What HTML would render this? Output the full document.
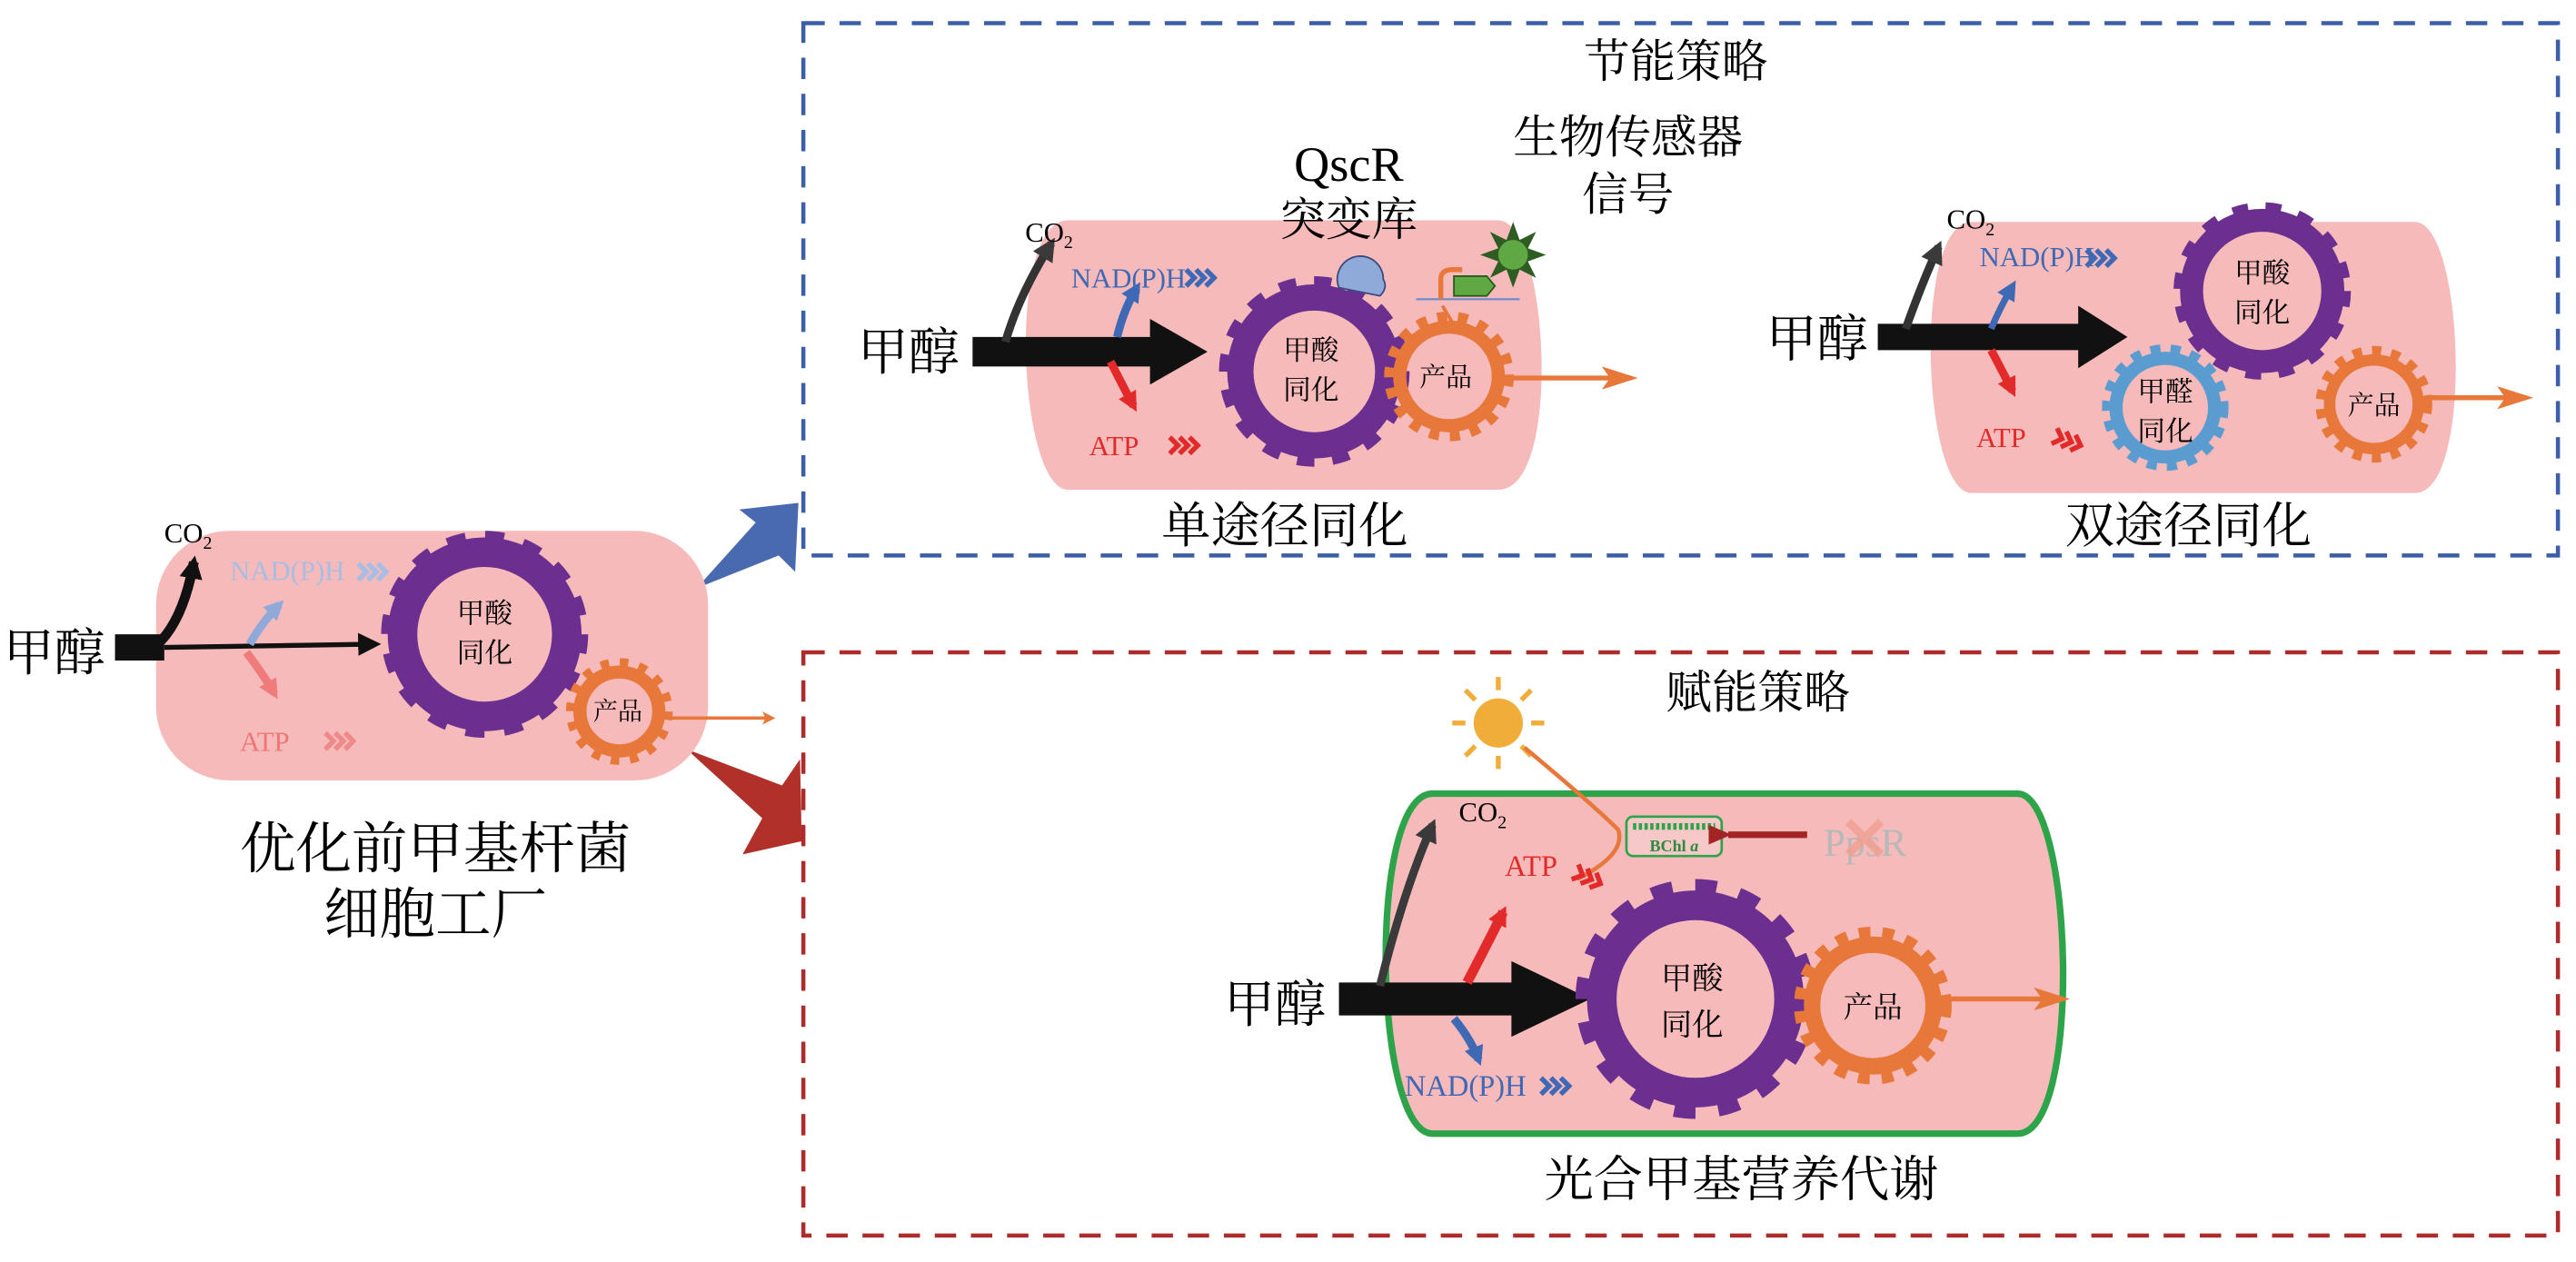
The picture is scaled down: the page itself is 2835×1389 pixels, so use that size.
<!DOCTYPE html>
<html><head><meta charset="utf-8"><style>
html,body{margin:0;padding:0;background:#fff;}
svg{display:block;}
text{font-family:"Liberation Serif","Noto Serif CJK SC","Noto Sans CJK SC",serif;}
</style></head><body>
<svg width="2835" height="1389" viewBox="0 0 1568 768" xmlns="http://www.w3.org/2000/svg">
<defs>
<marker id="mo" markerWidth="8" markerHeight="8" refX="6" refY="4" orient="auto" markerUnits="userSpaceOnUse"><path d="M0,0 L8,4 L0,8 L2,4z" fill="#e8773a"/></marker>
<marker id="mo2" markerWidth="22" markerHeight="14" refX="18" refY="7" orient="auto" markerUnits="userSpaceOnUse"><path d="M0,0 L22,7 L0,14 L5,7z" fill="#e8773a"/></marker>
<marker id="mk" markerWidth="14" markerHeight="14" refX="10" refY="7" orient="auto" markerUnits="userSpaceOnUse"><path d="M0,0 L14,7 L0,14z" fill="#111"/></marker>
<marker id="mg" markerWidth="14" markerHeight="14" refX="10" refY="7" orient="auto" markerUnits="userSpaceOnUse"><path d="M0,0 L14,7 L0,14z" fill="#3a3a3a"/></marker>
<marker id="mb" markerWidth="12" markerHeight="12" refX="8" refY="6" orient="auto" markerUnits="userSpaceOnUse"><path d="M0,0 L12,6 L0,12z" fill="#3f68b5"/></marker>
<marker id="mbl" markerWidth="12" markerHeight="12" refX="8" refY="6" orient="auto" markerUnits="userSpaceOnUse"><path d="M0,0 L12,6 L0,12z" fill="#8fa9d9"/></marker>
<marker id="mr" markerWidth="12" markerHeight="12" refX="8" refY="6" orient="auto" markerUnits="userSpaceOnUse"><path d="M0,0 L12,6 L0,12z" fill="#e32a2a"/></marker>
<marker id="mrl" markerWidth="12" markerHeight="12" refX="8" refY="6" orient="auto" markerUnits="userSpaceOnUse"><path d="M0,0 L12,6 L0,12z" fill="#ef7b7b"/></marker>
<marker id="mdr" markerWidth="14" markerHeight="12" refX="2" refY="6" orient="auto" markerUnits="userSpaceOnUse"><path d="M0,6 L14,0 L14,12z" fill="#a32424"/></marker>
<path id="chev" d="M0,-5 L5,0 L0,5 M6,-5 L11,0 L6,5 M12,-5 L17,0 L12,5" fill="none" stroke-width="3"/>
</defs>

<rect x="489" y="14" width="1068" height="324" fill="none" stroke="#3c5ea8" stroke-width="2.5" stroke-dasharray="13 9"/>
<rect x="489" y="397" width="1068" height="355" fill="none" stroke="#ad2b2b" stroke-width="2.5" stroke-dasharray="13 9"/>

<path d="M424,358 L460,318 L450,310 L486,306 L484,348 L474,338 Z" fill="#4a6ab0"/>
<path d="M418,456 L476,478 L487,462 L488,512 L452,520 L464,498 Z" fill="#b2302a"/>

<!-- ===== LEFT CELL ===== -->
<rect x="95" y="323" width="336" height="152" rx="45" fill="#f6baba"/>
<text x="2" y="408" font-size="31">甲醇</text>
<path d="M70,386 L100,386 L100,402 L70,402Z" fill="#111"/>
<path d="M100,394 L228,392" stroke="#111" stroke-width="3" marker-end="url(#mk)"/>
<path d="M98,390 Q112,375 118,342" stroke="#111" stroke-width="6" fill="none" marker-end="url(#mk)"/>
<text x="100" y="330" font-size="17">CO<tspan font-size="11" dy="4">2</tspan></text>
<text x="140" y="353" font-size="17" fill="#a8bde3">NAD(P)H</text>
<use href="#chev" x="218" y="348" stroke="#a8bde3"/>
<path d="M152,392 Q160,378 170,368" stroke="#8fa9d9" stroke-width="5" fill="none" marker-end="url(#mbl)"/>
<path d="M150,397 Q160,410 167,422" stroke="#ef7b7b" stroke-width="5" fill="none" marker-end="url(#mrl)"/>
<text x="146" y="457" font-size="17" fill="#ee7676">ATP</text>
<use href="#chev" x="198" y="451" stroke="#ee8a8a"/>
<g transform="translate(295,386)">
<circle r="50" fill="none" stroke="#6b2f8f" stroke-width="18"/>
<circle r="57" fill="none" stroke="#6b2f8f" stroke-width="12" stroke-dasharray="11 11.4"/>
</g>
<text x="295" y="379" font-size="17" text-anchor="middle">甲酸</text>
<text x="295" y="403" font-size="17" text-anchor="middle">同化</text>
<g transform="translate(377,433)">
<circle r="24" fill="none" stroke="#e8773a" stroke-width="8"/>
<circle r="29" fill="none" stroke="#e8773a" stroke-width="7" stroke-dasharray="5 6.4"/>
</g>
<text x="376" y="438" font-size="15" text-anchor="middle">产品</text>
<path d="M403,437 L470,437" stroke="#e8773a" stroke-width="2" marker-end="url(#mo)"/>
<text x="265" y="528" font-size="34" text-anchor="middle">优化前甲基杆菌</text>
<text x="265" y="568" font-size="34" text-anchor="middle">细胞工厂</text>

<!-- ===== TOP CELL 1 ===== -->
<path d="M650,134 L912,134 C942,134 952,298 912,298 L650,298 C620,298 612,134 650,134Z" fill="#f6baba"/>
<text x="1020" y="47" font-size="28" text-anchor="middle">节能策略</text>
<text x="522" y="225" font-size="31">甲醇</text>
<path d="M592,205 L700,205 L700,194 L735,214 L700,234 L700,223 L592,223Z" fill="#111"/>
<path d="M612,208 Q620,180 640,148" stroke="#333" stroke-width="5" fill="none" marker-end="url(#mg)"/>
<text x="624" y="147" font-size="17">CO<tspan font-size="11" dy="4">2</tspan></text>
<text x="652" y="175" font-size="17" fill="#3f68b5">NAD(P)H</text>
<use href="#chev" x="722" y="169" stroke="#3f68b5"/>
<path d="M680,205 Q684,188 692,175" stroke="#3f68b5" stroke-width="5" fill="none" marker-end="url(#mb)"/>
<path d="M676,220 Q684,236 690,247" stroke="#e32a2a" stroke-width="5" fill="none" marker-end="url(#mr)"/>
<text x="663" y="277" font-size="17" fill="#e32a2a">ATP</text>
<use href="#chev" x="712" y="271" stroke="#e32a2a"/>
<g transform="translate(800,226)">
<circle r="45" fill="none" stroke="#6b2f8f" stroke-width="16"/>
<circle r="52" fill="none" stroke="#6b2f8f" stroke-width="12" stroke-dasharray="10 10.4"/>
</g>
<text x="798" y="219" font-size="17" text-anchor="middle">甲酸</text>
<text x="798" y="243" font-size="17" text-anchor="middle">同化</text>
<g transform="translate(882,229)">
<circle r="30" fill="none" stroke="#e8773a" stroke-width="8"/>
<circle r="36" fill="none" stroke="#e8773a" stroke-width="7" stroke-dasharray="6 6.5"/>
</g>
<text x="880" y="235" font-size="16" text-anchor="middle">产品</text>
<path d="M917,230 L993,230" stroke="#e8773a" stroke-width="3" marker-end="url(#mo2)"/>
<path d="M884,196 L878,186" stroke="#e8773a" stroke-width="2"/>
<text x="821" y="110" font-size="30" text-anchor="middle">QscR</text>
<text x="821" y="143" font-size="28" text-anchor="middle">突变库</text>
<text x="991" y="93" font-size="28" text-anchor="middle">生物传感器</text>
<text x="991" y="128" font-size="28" text-anchor="middle">信号</text>
<path d="M815,175 A14,14 0 1 1 842,170 Q845,175 840,180 Z" fill="#8fa9d9" stroke="#3a4a80" stroke-width="1"/>
<line x1="862" y1="182" x2="925" y2="182" stroke="#6a8ad0" stroke-width="1.2"/>
<path d="M877,182 L877,170 Q877,164 884,164 L890,164" stroke="#e8773a" stroke-width="3" fill="none"/>
<path d="M885,180 L905,180 L910,174 L905,168 L885,168Z" fill="#5fa844" stroke="#2b5a20"/>
<g transform="translate(921,155)">
<polygon points="0,-20 4,-9 14,-14 9,-4 20,0 9,4 14,14 4,9 0,20 -4,9 -14,14 -9,4 -20,0 -9,-4 -14,-14 -4,-9" fill="#2e5c22"/>
<circle r="9" fill="#5fa844"/>
</g>
<text x="782" y="330" font-size="30" text-anchor="middle">单途径同化</text>

<!-- ===== TOP CELL 2 ===== -->
<path d="M1200,135 L1470,135 C1500,135 1506,300 1470,300 L1200,300 C1170,300 1164,135 1200,135Z" fill="#f6baba"/>
<text x="1075" y="217" font-size="31">甲醇</text>
<path d="M1143,197 L1265,197 L1265,186 L1295,205 L1265,224 L1265,213 L1143,213Z" fill="#111"/>
<path d="M1160,200 Q1170,172 1180,150" stroke="#333" stroke-width="5" fill="none" marker-end="url(#mg)"/>
<text x="1185" y="139" font-size="17">CO<tspan font-size="11" dy="4">2</tspan></text>
<text x="1205" y="162" font-size="17" fill="#3f68b5">NAD(P)H</text>
<use href="#chev" x="1270" y="157" stroke="#3f68b5"/>
<path d="M1212,200 Q1218,186 1225,174" stroke="#3f68b5" stroke-width="4" fill="none" marker-end="url(#mb)"/>
<path d="M1212,213 Q1220,228 1225,238" stroke="#e32a2a" stroke-width="5" fill="none" marker-end="url(#mr)"/>
<text x="1203" y="272" font-size="17" fill="#e32a2a">ATP</text>
<use href="#chev" x="1250" y="268" stroke="#e32a2a" transform="rotate(20 1258 268)"/>
<g transform="translate(1377,177)">
<circle r="43" fill="none" stroke="#6b2f8f" stroke-width="14"/>
<circle r="48" fill="none" stroke="#6b2f8f" stroke-width="12" stroke-dasharray="9 10"/>
</g>
<text x="1377" y="172" font-size="17" text-anchor="middle">甲酸</text>
<text x="1377" y="196" font-size="17" text-anchor="middle">同化</text>
<g transform="translate(1318,248)">
<circle r="30" fill="none" stroke="#5a9bd0" stroke-width="8"/>
<circle r="35" fill="none" stroke="#5a9bd0" stroke-width="7" stroke-dasharray="6 6"/>
</g>
<text x="1318" y="244" font-size="17" text-anchor="middle">甲醛</text>
<text x="1318" y="268" font-size="17" text-anchor="middle">同化</text>
<g transform="translate(1445,246)">
<circle r="27" fill="none" stroke="#e8773a" stroke-width="7"/>
<circle r="32" fill="none" stroke="#e8773a" stroke-width="7" stroke-dasharray="5.5 6"/>
</g>
<text x="1445" y="252" font-size="16" text-anchor="middle">产品</text>
<path d="M1476,242 L1538,242" stroke="#e8773a" stroke-width="3" marker-end="url(#mo2)"/>
<text x="1332" y="330" font-size="30" text-anchor="middle">双途径同化</text>

<!-- ===== BOTTOM CELL ===== -->
<text x="1070" y="431" font-size="28" text-anchor="middle">赋能策略</text>
<path d="M872,483 L1228,483 C1262,483 1268,690 1228,690 L872,690 C836,690 832,483 872,483Z" fill="#f6baba" stroke="#2da44a" stroke-width="4"/>
<g transform="translate(912,440)" stroke="#f0ad3a" stroke-width="3">
<circle r="15" fill="#f0ad3a" stroke="none"/>
<line x1="0" y1="-20" x2="0" y2="-28"/><line x1="0" y1="20" x2="0" y2="28"/>
<line x1="-20" y1="0" x2="-28" y2="0"/><line x1="20" y1="0" x2="28" y2="0"/>
<line x1="14" y1="14" x2="20" y2="20"/><line x1="-14" y1="14" x2="-20" y2="20"/>
<line x1="14" y1="-14" x2="20" y2="-20"/><line x1="-14" y1="-14" x2="-20" y2="-20"/>
</g>
<path d="M928,455 Q970,490 985,505 Q990,520 960,535" stroke="#e8773a" stroke-width="2.5" fill="none"/>
<rect x="990" y="497" width="58" height="24" rx="4" fill="#f6c8c8" stroke="#2da44a" stroke-width="1.5"/>
<line x1="994" y1="503" x2="1044" y2="503" stroke="#2da44a" stroke-width="4" stroke-dasharray="2 1.5"/>
<text x="1019" y="518" font-size="10" fill="#2d8a40" text-anchor="middle" font-weight="bold">BChl <tspan font-style="italic">a</tspan></text>
<path d="M1100,508 L1052,508" stroke="#a32424" stroke-width="4" marker-end="url(#mdr)"/>
<text x="1110" y="521" font-size="24" fill="#b8b8b8" font-family="Liberation Sans,sans-serif">PpsR</text>
<path d="M1125,500 L1145,520 M1145,500 L1125,520" stroke="#f0a090" stroke-width="5" opacity="0.8"/>
<text x="745" y="622" font-size="31">甲醇</text>
<path d="M815,598 L920,598 L920,585 L968,608 L920,631 L920,618 L815,618Z" fill="#111"/>
<path d="M840,600 Q855,540 872,502" stroke="#3a3a3a" stroke-width="5" fill="none" marker-end="url(#mg)"/>
<text x="888" y="500" font-size="17">CO<tspan font-size="11" dy="4">2</tspan></text>
<path d="M893,598 Q905,575 915,555" stroke="#e32a2a" stroke-width="6" fill="none" marker-end="url(#mr)"/>
<text x="916" y="533" font-size="18" fill="#e32a2a">ATP</text>
<use href="#chev" x="958" y="534" stroke="#e32a2a" transform="rotate(25 966 534)"/>
<path d="M885,620 Q895,632 900,645" stroke="#3f68b5" stroke-width="5" fill="none" marker-end="url(#mb)"/>
<text x="855" y="667" font-size="18" fill="#3f68b5">NAD(P)H</text>
<use href="#chev" x="938" y="661" stroke="#3f68b5"/>
<g transform="translate(1032,608)">
<circle r="57" fill="none" stroke="#6b2f8f" stroke-width="18"/>
<circle r="66" fill="none" stroke="#6b2f8f" stroke-width="14" stroke-dasharray="12.5 13.4"/>
</g>
<text x="1030" y="602" font-size="19" text-anchor="middle">甲酸</text>
<text x="1030" y="630" font-size="19" text-anchor="middle">同化</text>
<g transform="translate(1140,612)">
<circle r="37" fill="none" stroke="#e8773a" stroke-width="10"/>
<circle r="44" fill="none" stroke="#e8773a" stroke-width="8" stroke-dasharray="7 7.2"/>
</g>
<text x="1140" y="619" font-size="18" text-anchor="middle">产品</text>
<path d="M1180,608 L1256,608" stroke="#e8773a" stroke-width="3" marker-end="url(#mo2)"/>
<text x="1060" y="728" font-size="30" text-anchor="middle">光合甲基营养代谢</text>
</svg>
</body></html>
